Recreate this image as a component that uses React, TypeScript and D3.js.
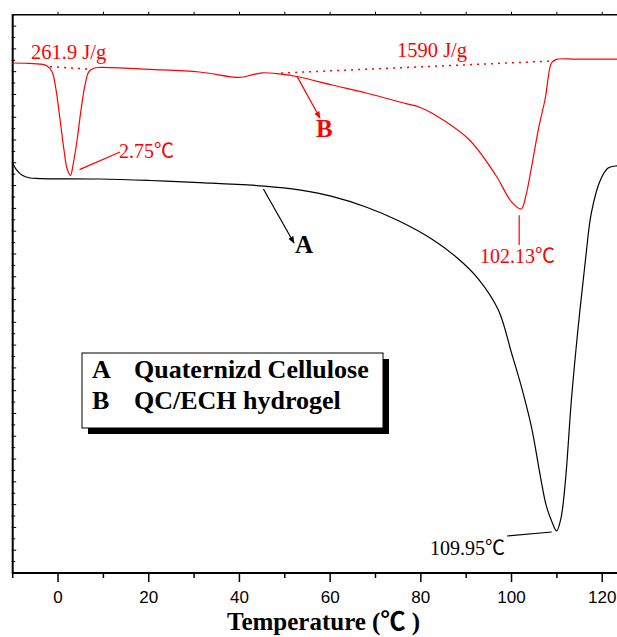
import { useEffect, useRef } from 'react'
import * as d3 from 'd3'

// Curve A: Quaternized cellulose (temperature in °C, heat flow in arbitrary units)
const tempA = [-10, -9.2, -7.9, -6.2, -4, 9.2, 20.2, 31.2, 45.5, 53.2, 60.4, 67.9, 75.2, 82.4, 88.3, 92.7, 97.1, 100, 102.2, 104.4, 106.4, 107.6, 108.9, 109.95, 110.9, 111.9, 113.2, 114.7, 116.3, 117.6, 119.6, 121.3, 122.9, 125.7]
const heatA = [35.98, 35.4, 34.9, 34.67, 34.62, 34.58, 34.45, 34.27, 33.96, 33.62, 33.05, 32.12, 30.89, 29.31, 27.56, 25.8, 23.08, 19.31, 16.32, 12.81, 8.4, 6.0, 4.5, 3.69, 4.8, 8.16, 15.18, 21.59, 27.47, 31.6, 34.49, 35.54, 35.72, 35.8]

// Curve B: QC/ECH hydrogel
const tempB = [-10, -6.2, -4, -2.4, -1.3, -0.44, 0.44, 1.32, 1.98, 2.75, 3.3, 4.2, 5.05, 5.93, 6.8, 7.9, 9.2, 20.2, 31.2, 40, 42.6, 45.05, 48.8, 53.2, 60.4, 67.9, 76.7, 79.6, 82.4, 90.5, 96.5, 100, 102.13, 103.1, 104.4, 105.9, 107.5, 108.1, 108.8, 109.9, 114.1, 125.7]
const heatB = [44.76, 44.72, 44.67, 44.5, 43.97, 42.4, 39.8, 37.1, 35.5, 34.9, 35.8, 38.0, 40.6, 42.8, 44.0, 44.3, 44.37, 44.2, 43.97, 43.5, 43.7, 43.9, 43.8, 43.53, 42.83, 42.13, 41.2, 40.9, 40.37, 38.09, 34.93, 32.57, 31.95, 33.0, 35.6, 38.9, 41.8, 43.5, 44.76, 45.08, 45.1, 45.1]

// Integration baselines (dotted)
const baseTemp1 = [-1.76, 7.47]
const baseHeat1 = [44.44, 44.2]
const baseTemp2 = [49.2, 109.2]
const baseHeat2 = [43.88, 44.94]

const xTicks = [0, 20, 40, 60, 80, 100, 120]
const xMinorTicks = [-10, 10, 30, 50, 70, 90, 110]
const legendKeys = ['A', 'B']
const legendNames = ['Quaternizd Cellulose', 'QC/ECH hydrogel']

const serif = '"Liberation Serif", "Times New Roman", "Noto Sans CJK SC", serif'

export default function App() {
  const svgRef = useRef<SVGSVGElement>(null)

  useEffect(() => {
    if (!svgRef.current) return
    const svg = d3.select(svgRef.current)
    svg.selectAll('*').remove()

    const x = d3.scaleLinear().domain([-10, 125]).range([12.7, 624.9])
    const y = d3.scaleLinear().domain([0, 49]).range([573, 14.7])
    const [x0] = x.range()
    const [yb, yt] = y.range()

    // arrow marker
    const defs = svg.append('defs')
    ;['black', 'red'].forEach((c) => {
      defs.append('marker')
        .attr('id', 'arrow-' + c)
        .attr('viewBox', '0 0 10 10')
        .attr('refX', 9)
        .attr('refY', 5)
        .attr('markerWidth', 6)
        .attr('markerHeight', 6)
        .attr('orient', 'auto')
        .append('path')
        .attr('d', 'M0,1L10,5L0,9Z')
        .attr('fill', c)
    })

    // frame: top and bottom lines, left axis
    svg.append('line').attr('x1', x0).attr('x2', 617).attr('y1', yt).attr('y2', yt)
      .attr('stroke', 'black').attr('stroke-width', 1.6)
    svg.append('line').attr('x1', x0).attr('x2', 617).attr('y1', yb).attr('y2', yb)
      .attr('stroke', 'black').attr('stroke-width', 2)
    svg.append('line').attr('x1', x0).attr('x2', x0).attr('y1', yt).attr('y2', yb)
      .attr('stroke', 'black').attr('stroke-width', 2)

    // bottom ticks
    svg.append('g').selectAll('line').data(xTicks).enter().append('line')
      .attr('x1', (d) => x(d)).attr('x2', (d) => x(d)).attr('y1', yb).attr('y2', yb + 9)
      .attr('stroke', 'black').attr('stroke-width', 1.5)
    svg.append('g').selectAll('line').data(xMinorTicks).enter().append('line')
      .attr('x1', (d) => x(d)).attr('x2', (d) => x(d)).attr('y1', yb).attr('y2', yb + 5)
      .attr('stroke', 'black').attr('stroke-width', 1.5)
    svg.append('g').selectAll('text').data(xTicks).enter().append('text')
      .attr('x', (d) => x(d)).attr('y', 603)
      .attr('text-anchor', 'middle')
      .style('font-family', '"Liberation Sans", Arial, sans-serif')
      .style('font-size', '17px')
      .text((d) => d)

    // top ticks
    svg.append('g').selectAll('line').data(d3.range(0, 125, 10)).enter().append('line')
      .attr('x1', (d) => x(d)).attr('x2', (d) => x(d)).attr('y1', yt).attr('y2', yt - 3)
      .attr('stroke', 'black').attr('stroke-width', 1)

    // left ticks
    svg.append('g').selectAll('line').data(d3.range(0, 50)).enter().append('line')
      .attr('x1', x0 - 1).attr('x2', (d) => x0 + (d % 2 === 0 ? 3.5 : 2.5))
      .attr('y1', (d) => y(d)).attr('y2', (d) => y(d))
      .attr('stroke', 'black').attr('stroke-width', 1)

    // curves
    const line = d3.line<[number, number]>()
      .x((d) => x(d[0]))
      .y((d) => y(d[1]))
      .curve(d3.curveCatmullRom.alpha(0.5))

    svg.append('path')
      .datum(tempA.map((t, i) => [t, heatA[i]] as [number, number]))
      .attr('d', line)
      .attr('fill', 'none')
      .attr('stroke', 'black')
      .attr('stroke-width', 1.2)

    svg.append('path')
      .datum(tempB.map((t, i) => [t, heatB[i]] as [number, number]))
      .attr('d', line)
      .attr('fill', 'none')
      .attr('stroke', 'red')
      .attr('stroke-width', 1.2)

    const straight = d3.line<[number, number]>().x((d) => x(d[0])).y((d) => y(d[1]))
    ;[[baseTemp1, baseHeat1], [baseTemp2, baseHeat2]].forEach(([ts, hs]) => {
      svg.append('path')
        .datum(ts.map((t, i) => [t, hs[i]] as [number, number]))
        .attr('d', straight)
        .attr('fill', 'none')
        .attr('stroke', 'red')
        .attr('stroke-width', 1.5)
        .attr('stroke-dasharray', '2,5')
    })

    // annotations
    const annot = (tx: string, ax: number, ay: number, color: string, size: number, bold = false) =>
      svg.append('text')
        .attr('x', ax).attr('y', ay)
        .attr('fill', color)
        .style('font-family', serif)
        .style('font-size', size + 'px')
        .style('font-weight', bold ? 'bold' : 'normal')
        .text(tx)

    const seg = (x1: number, y1: number, x2: number, y2: number, color: string, arrow = false) => {
      const l = svg.append('line')
        .attr('x1', x1).attr('y1', y1).attr('x2', x2).attr('y2', y2)
        .attr('stroke', color).attr('stroke-width', 1.2)
      if (arrow) l.attr('marker-end', `url(#arrow-${color})`)
    }

    annot('261.9 J/g', 31, 59, 'red', 20.5)
    annot('1590 J/g', 397, 57, 'red', 20.5)

    // peak 1
    seg(x(2.75) + 9, y(35.4), 120, 152, 'red')
    annot('2.75\u2103', 119, 158, 'red', 20)

    // peak 2
    seg(x(102.13) - 2, y(31.4), x(102.13) - 2, 245, 'red')
    annot('102.13\u2103', 480, 263, 'red', 20)

    // peak 3
    seg(507, 536, x(109.95) - 5, y(3.6), 'black')
    annot('109.95\u2103', 430, 555, 'black', 20)

    // curve labels
    seg(x(53.2) - 2, y(43.5) - 0.5, 320, 118, 'red', true)
    annot('B', 316, 137, 'red', 25, true)
    seg(x(45.5) - 1, y(33.96) + 3, 294, 243, 'black', true)
    annot('A', 295, 253, 'black', 25, true)

    // legend
    const lg = svg.append('g').attr('transform', 'translate(82,353)')
    lg.append('rect').attr('x', 6).attr('y', 6).attr('width', 301).attr('height', 75).attr('fill', 'black')
    lg.append('rect').attr('x', 0).attr('y', 0).attr('width', 301).attr('height', 75)
      .attr('fill', 'white').attr('stroke', 'black').attr('stroke-width', 1)
    legendKeys.forEach((k, i) => {
      lg.append('text').attr('x', 10).attr('y', 25 + i * 31)
        .style('font-family', serif).style('font-size', '26px').style('font-weight', 'bold')
        .text(k)
      lg.append('text').attr('x', 52).attr('y', 25 + i * 31)
        .style('font-family', serif).style('font-size', '26px').style('font-weight', 'bold')
        .text(legendNames[i])
    })

    // x title
    svg.append('text')
      .attr('x', 227).attr('y', 630)
      .style('font-family', serif)
      .style('font-size', '25px')
      .style('font-weight', 'bold')
      .text('Temperature (\u2103 )')
  }, [])

  return (
    <svg
      ref={svgRef}
      width={617}
      height={637}
      style={{ position: 'absolute', left: 0, top: 0, background: 'white' }}
    />
  )
}
